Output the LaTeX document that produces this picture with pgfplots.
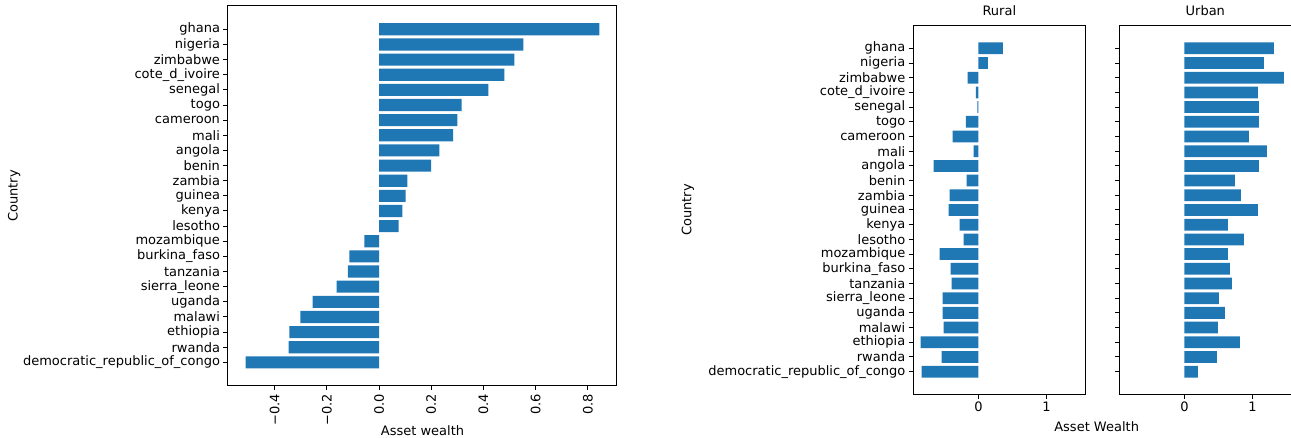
\documentclass[border=0pt]{standalone}
\usepackage{fontspec}
\setmainfont{DejaVu Sans}
\usepackage{pgfplots}
\pgfplotsset{compat=1.18}
\definecolor{mplblue}{HTML}{1F77B4}
\newcommand{\fs}{\fontsize{13}{15.6}\selectfont}
\pgfplotsset{
  myax/.style={
    scale only axis,
    axis line style={line width=1pt, black},
    every tick/.style={line width=1pt, black},
    tick align=outside,
    major tick length=4.5pt,
    xtick pos=bottom, ytick pos=left,
    ymin=-1.54, ymax=23.54,
    ytick={0,...,22},
    font=\fs,
    tick label style={font=\fs},
    label style={font=\fs},
    title style={font=\fs},
    xbar, bar width=0.8,
  },
  countries/.style={
    yticklabels={democratic\_republic\_of\_congo, rwanda, ethiopia, malawi, uganda,
      sierra\_leone, tanzania, burkina\_faso, mozambique, lesotho, kenya, guinea,
      zambia, benin, angola, mali, cameroon, togo, senegal, cote\_d\_ivoire,
      zimbabwe, nigeria, ghana},
  },
}
\begin{document}
\begin{tikzpicture}
\useasboundingbox (0,0) rectangle (1291pt,438pt);
% ---------- left chart ----------
\begin{axis}[myax, countries,
  at={(228pt,52.3pt)}, anchor=south west,
  width=389pt, height=379.7pt,
  xmin=-0.579, xmax=0.912,
  xtick={-0.4,-0.2,0,0.2,0.4,0.6,0.8},
  xticklabels={−0.4,−0.2,0.0,0.2,0.4,0.6,0.8},
  xticklabel style={rotate=90, anchor=east},
  xlabel={Asset wealth},
  xlabel style={at={(axis description cs:0.5,-0.119)}, anchor=center},
  ylabel={Country},
  ylabel style={at={(axis description cs:-0.550,0.5)}, anchor=center},
]
\addplot[draw=none, fill=mplblue] coordinates {
(-0.511,0) (-0.347,1) (-0.344,2) (-0.302,3) (-0.255,4) (-0.1625,5)
(-0.120,6) (-0.114,7) (-0.056,8) (0.075,9) (0.089,10) (0.102,11)
(0.109,12) (0.200,13) (0.231,14) (0.284,15) (0.300,16) (0.316,17)
(0.419,18) (0.480,19) (0.519,20) (0.553,21) (0.844,22)
};
\end{axis}
% ---------- rural ----------
\begin{axis}[myax, countries,
  at={(913.3pt,43.7pt)}, anchor=south west,
  width=172pt, height=368.6pt,
  xmin=-0.956, xmax=1.569,
  xtick={0,1}, xticklabels={0,1},
  title={Rural},
  title style={at={(axis description cs:0.5,1.024)}, anchor=center},
  xlabel={Asset Wealth},
  xlabel style={at={(axis description cs:1.066,-0.088)}, anchor=center},
  ylabel={Country},
  ylabel style={at={(axis description cs:-1.31,0.5)}, anchor=center},
]
\addplot[draw=none, fill=mplblue] coordinates {
(-0.833,0) (-0.539,1) (-0.848,2) (-0.510,3) (-0.525,4) (-0.525,5)
(-0.392,6) (-0.407,7) (-0.569,8) (-0.216,9) (-0.275,10) (-0.436,11)
(-0.422,12) (-0.172,13) (-0.657,14) (-0.069,15) (-0.377,16) (-0.186,17)
(-0.015,18) (-0.039,19) (-0.157,20) (0.137,21) (0.358,22)
};
\end{axis}
% ---------- urban ----------
\begin{axis}[myax,
  at={(1119.3pt,43.7pt)}, anchor=south west,
  width=172pt, height=368.6pt,
  xmin=-0.956, xmax=1.569,
  xtick={0,1}, xticklabels={0,1},
  yticklabels={},
  title={Urban},
  title style={at={(axis description cs:0.5,1.024)}, anchor=center},
]
\addplot[draw=none, fill=mplblue] coordinates {
(0.196,0) (0.475,1) (0.814,2) (0.490,3) (0.593,4) (0.505,5)
(0.696,6) (0.667,7) (0.637,8) (0.873,9) (0.637,10) (1.078,11)
(0.828,12) (0.740,13) (1.093,14) (1.211,15) (0.946,16) (1.093,17)
(1.093,18) (1.078,19) (1.461,20) (1.167,21) (1.314,22)
};
\end{axis}
\end{tikzpicture}
\end{document}
